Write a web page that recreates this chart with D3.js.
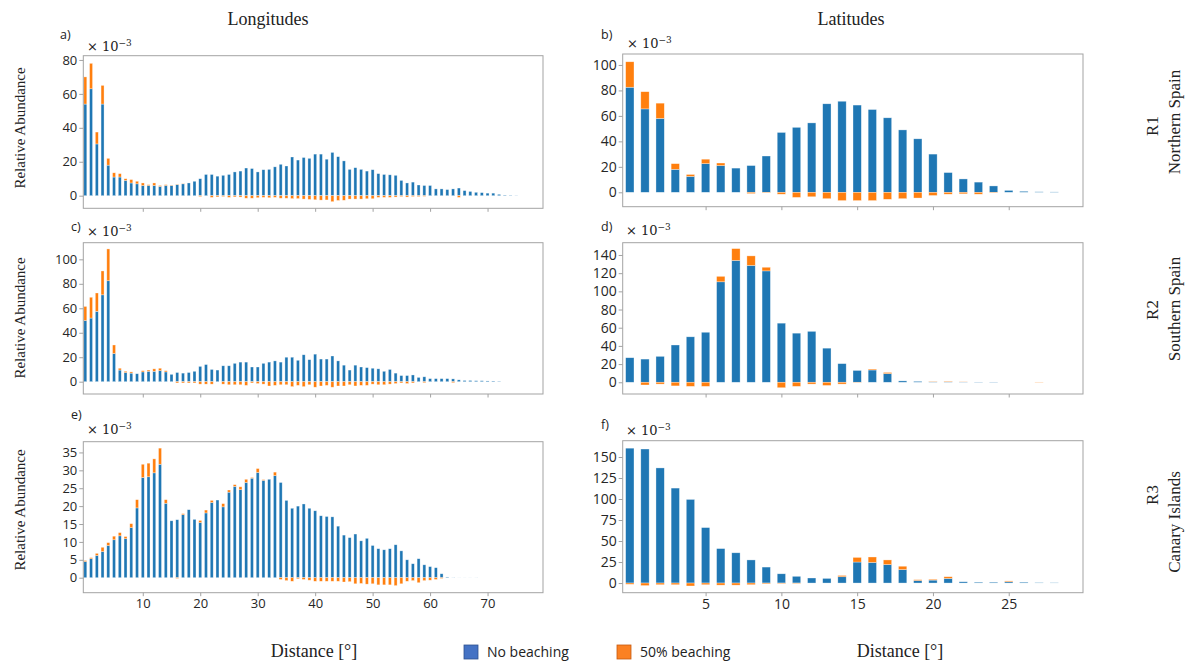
<!DOCTYPE html>
<html>
<head>
<meta charset="utf-8">
<script src="https://cdn.jsdelivr.net/npm/d3@7"></script>
<style>
  body { margin: 0; background: #fff; }
  .tick text { fill: #262626; font-family: "Open Sans", sans-serif; }
  .serif { font-family: "Liberation Serif", "Times New Roman", serif; fill: #222; }
</style>
</head>
<body>
<div id="chart"></div>
<script>
// relative abundance (x 10^-3), blue = no beaching, orange = 50% beaching minus no beaching
var lonR1Blue = [54,63,30.5,54,18,11,11,9,7.5,7, 6,6,6,5.5,6,6,6.5,7,7.5,8.5,
  10,12.5,12.5,11.5,12,12.5,14,14.5,16.3,16, 14,15.3,15.5,17,18.5,17.5,22.8,21,22.5,22,
  24.5,24.5,21.5,25.5,23,20.5,15.5,16.5,15.5,14.5, 15.3,13,12.5,12.3,12,9,7.5,8,6.3,6,
  6,4,4,3.6,4,4.5,3,2.5,2,1.8, 1.5,1.5,0.8,0.3,0.2,0.1];
var lonR1Orange = [16,15,7,11,4,2.5,2,1,2,1.5, 1.5,0.5,1.5,0.5,0.5,0.2,0.2,0.2,0,0,
  -0.5,0,-1,-0.7,-0.5,-1,-0.7,-0.8,-1.5,-1.5, -1.2,-1,-1.2,-1,-1.5,-1.5,-1.7,-1.7,-2,-2.2,
  -2.4,-2.6,-2.5,-3.5,-2.8,-2.7,-2,-2,-2,-1.8, -1.8,-1,-1,-1,-0.8,-0.5,-0.8,-0.5,-0.5,-0.4,
  0,0,0,0,0,-1,0,0,0,0, 0,0,0,0,0,0];

var lonR2Blue = [50,52,57.5,71,82.5,23,9.5,7.5,7,6.5, 8,8.5,8.5,9,8,6,7.5,7,7.5,8.5,
  12.5,14,10,9.5,13,13,15,16,16,12, 12,15,16,17,16,20,20,17.5,22,18,
  22.5,18.5,18.5,21,17,13.5,9.5,13.5,12,11.5, 11,10.5,8.5,10,7,5,5,5.5,3.5,4,
  2.5,2.5,2.5,2.5,2.3,1.5,1,1,0.8,0.8, 0.6,0.5,0.3];
var lonR2Orange = [11.5,17,15,19.5,26,7,1.5,1,1,0, 1,1,2,2,1,0,-1,-1,-1,-1,
  -2,-2,-2,0,-2,-2.5,-2.5,-2.5,-3,-1, -1.5,-2,-3.5,-3,-2.5,-2.5,-4,-3,-4,-2.5,
  -4.5,-3.5,-3,-4.5,-3.5,-3.5,-2.5,-3.5,-3,-3, -2,-2.5,-2.5,-2,-1.5,-1,-1.5,-1,0,-0.8,
  0,0,0,0,-0.8,0,0,0,0,0, 0,0,0];

var lonR3Blue = [4.5,5.3,6.2,7.3,9,10.6,11.7,10.9,14,19.5, 28,28.2,29.3,31.7,20.8,15.9,16.2,17.6,19,16.3,
  15.4,18.1,21,21.7,19.8,23.9,25.5,24.6,26.6,27.8, 29.4,27.2,27.5,28.5,26.6,21.6,19.4,20,20.6,19.4,
  18.7,17.3,17.1,17,14.4,11.9,11.2,12.2,10.3,11, 9,8.1,7.8,8.1,9.2,7.5,5,3.9,5.3,3.6,
  3.1,2.8,1.1,0.2,0.1,0.05,0.05,0.05,0.05];
var lonR3Orange = [0.3,0.3,0.6,1.2,0.8,1,0.9,0.6,1.1,2.3, 3.7,3.8,3.9,4.5,1,0,-0.2,0.3,0,0,
  0.6,0.8,0.6,0,0.9,0.6,0.5,0.8,0.9,0.2, 1.1,0.2,0,1,-0.5,-0.8,-1,-0.3,-0.5,-0.7,
  -1,-1,-1,-1,-1,-1.2,-1.1,-1.7,-1.6,-1.8, -1.7,-2,-2,-2,-2.2,-1.7,-1,-0.8,-1.4,-0.8,
  -0.7,-0.5,-0.2,0,0,0,0,0,0];

var latR1Blue = [82.5,65.5,58,18,12.5,22.5,21,19,21,28.5, 47,51,54.5,69.5,71.5,68.5,65,58.5,49,42,
  30,15.5,10.5,8,5,1.5,0.8,0.4,0.3];
var latR1Orange = [20,13.5,12,4.5,1.5,3.5,2,0,-1,-0.5, -1.5,-4,-3.5,-5,-6.5,-6.5,-6.5,-5.5,-5,-4.5,
  -2.5,-1.5,-1.2,-1.5,-0.5,0,0,0,0];

var latR2Blue = [27,25.5,28.5,41,50,55,110.5,134,128.5,122.5, 65,54,56,37.5,20.5,13,13.5,9.5,1.5,1,
  0.5,0.5,0.3,0.3,0.3,0,0,0];
var latR2Orange = [0,-3,-2,-4,-4.5,-4.5,6,13,10.5,4, -6,-4.5,-2,-3.5,-2,-0.5,1,1.3,0,0,
  0.5,0.7,0.2,0,0,0,0,0.3];

var latR3Blue = [160.5,159.5,137,113,99.5,66,41,36,27.5,19, 11,8,6,5.5,7.5,25,24.5,22,16,3,
  3.5,5.5,1.5,1,1,1.5,1,0.5,0.3];
var latR3Orange = [-1.5,-3,-2,-2,-3.5,-2,-2.5,-2.5,-2,-1, -0.8,-0.5,0,0,1.5,5.5,6.5,5.5,4,1,
  1,2,0,0,0,1,0,0,0];

var lonTicks = [10,20,30,40,50,60,70];
var latTicks = [5,10,15,20,25];
var regionNames = [["R1","Northern Spain"],["R2","Southern Spain"],["R3","Canary Islands"]];

var blueColor = "#1f77b4", orangeColor = "#ff7f0e";

var svg = d3.select("#chart").append("svg")
  .attr("width", 1190)
  .attr("height", 661);

var columns = {
  lon: { x0: 83.3, x1: 543, domain: [-0.35, 79.65], ticks: lonTicks, barW: 0.52, font: 13 },
  lat: { x0: 622.7, x1: 1083, domain: [-0.47, 29.9], ticks: latTicks, barW: 0.55, font: 14 }
};

var panels = [
  { tag: "a)", col: "lon", blue: lonR1Blue, orange: lonR1Orange, top: 55.7, bottom: 208.3,
    ylim: [-7.43, 82.5], yticks: [0,20,40,60,80], tagPos: [60, 39], offPos: [87, 51], xlabels: false },
  { tag: "b)", col: "lat", blue: latR1Blue, orange: latR1Orange, top: 54, bottom: 206.7,
    ylim: [-11.3, 108.6], yticks: [0,20,40,60,80,100], tagPos: [601, 39], offPos: [627, 48], xlabels: false },
  { tag: "c)", col: "lon", blue: lonR2Blue, orange: lonR2Orange, top: 242.7, bottom: 394,
    ylim: [-10.06, 113.6], yticks: [0,20,40,60,80,100], tagPos: [71, 231], offPos: [87, 236], xlabels: false },
  { tag: "d)", col: "lat", blue: latR2Blue, orange: latR2Orange, top: 242.7, bottom: 394,
    ylim: [-12.9, 153.5], yticks: [0,20,40,60,80,100,120,140], tagPos: [601, 231], offPos: [626, 235], xlabels: false },
  { tag: "e)", col: "lon", blue: lonR3Blue, orange: lonR3Orange, top: 441.7, bottom: 592.7,
    ylim: [-4.19, 38.0], yticks: [0,5,10,15,20,25,30,35], tagPos: [71, 419], offPos: [87, 434], xlabels: true },
  { tag: "f)", col: "lat", blue: latR3Blue, orange: latR3Orange, top: 440.7, bottom: 592.7,
    ylim: [-11.5, 169.4], yticks: [0,25,50,75,100,125,150], tagPos: [601, 429], offPos: [626, 435], xlabels: true }
];

panels.forEach(function(p) {
  var c = columns[p.col];
  var x = d3.scaleLinear().domain(c.domain).range([c.x0, c.x1]);
  var y = d3.scaleLinear().domain(p.ylim).range([p.bottom, p.top]);
  var g = svg.append("g");

  var bw = x(c.barW) - x(0);
  var idx = d3.range(p.blue.length);

  // blue bars
  g.selectAll(".blue").data(idx).enter().append("rect")
    .attr("class", "blue")
    .attr("x", function(i) { return x(i) - bw / 2; })
    .attr("width", bw)
    .attr("y", function(i) { return y(p.blue[i]); })
    .attr("height", function(i) { return y(0) - y(p.blue[i]); })
    .attr("fill", blueColor)
    .attr("stroke", "rgba(255,255,255,0.55)")
    .attr("stroke-width", 0.6);

  // orange: stacked on top when positive, hanging below 0 when negative
  g.selectAll(".orange").data(idx.filter(function(i) { return p.orange[i] !== 0; }))
    .enter().append("rect")
    .attr("class", "orange")
    .attr("x", function(i) { return x(i) - bw / 2; })
    .attr("width", bw)
    .attr("y", function(i) {
      return p.orange[i] > 0 ? y(p.blue[i] + p.orange[i]) : y(0);
    })
    .attr("height", function(i) { return Math.abs(y(0) - y(p.orange[i])); })
    .attr("fill", orangeColor)
    .attr("stroke", "rgba(255,255,255,0.55)")
    .attr("stroke-width", 0.6);

  // frame
  g.append("rect")
    .attr("x", c.x0).attr("y", p.top)
    .attr("width", c.x1 - c.x0).attr("height", p.bottom - p.top)
    .attr("fill", "none").attr("stroke", "#a3a3a3").attr("stroke-width", 1);

  var xAxis = d3.axisBottom(x).tickValues(c.ticks).tickSize(3.5).tickPadding(3)
    .tickFormat(p.xlabels ? d3.format("d") : "");
  var xg = g.append("g").attr("transform", "translate(0," + p.bottom + ")").call(xAxis);
  xg.select(".domain").remove();
  xg.selectAll("line").attr("stroke", "#a3a3a3");
  xg.selectAll("text").style("font-size", c.font + "px");

  var yAxis = d3.axisLeft(y).tickValues(p.yticks).tickSize(4).tickPadding(2);
  var yg = g.append("g").attr("transform", "translate(" + c.x0 + ",0)").call(yAxis);
  yg.select(".domain").remove();
  yg.selectAll("line").attr("stroke", "#a3a3a3");
  yg.selectAll("text").style("font-size", c.font + "px");

  // panel letter
  g.append("text")
    .attr("x", p.tagPos[0]).attr("y", p.tagPos[1])
    .style("font-family", "Open Sans, sans-serif").style("font-size", "12.5px")
    .attr("fill", "#222")
    .text(p.tag);

  // offset text  x 10^-3
  var off = g.append("text")
    .attr("x", p.offPos[0]).attr("y", p.offPos[1])
    .style("font-family", "DejaVu Serif, serif").style("font-size", "13px")
    .attr("fill", "#222");
  off.append("tspan").text("\u00d7 10");
  off.append("tspan").attr("dy", -5).style("font-size", "9px").text("\u22123");
});

// column titles
svg.append("text").attr("class", "serif")
  .attr("x", 268).attr("y", 25).attr("text-anchor", "middle")
  .style("font-size", "18px").text("Longitudes");
svg.append("text").attr("class", "serif")
  .attr("x", 851).attr("y", 25).attr("text-anchor", "middle")
  .style("font-size", "18px").text("Latitudes");

// y labels
[128, 318, 510].forEach(function(cy) {
  svg.append("text").attr("class", "serif")
    .attr("transform", "translate(25," + cy + ") rotate(-90)")
    .attr("text-anchor", "middle")
    .style("font-size", "15px")
    .text("Relative Abundance");
});

// region labels on the right
var regionY = [[126, 122], [310, 309], [495, 522]];
regionNames.forEach(function(r, i) {
  svg.append("text").attr("class", "serif")
    .attr("transform", "translate(1158," + regionY[i][0] + ") rotate(-90)")
    .attr("text-anchor", "middle").style("font-size", "17px").text(r[0]);
  svg.append("text").attr("class", "serif")
    .attr("transform", "translate(1180," + regionY[i][1] + ") rotate(-90)")
    .attr("text-anchor", "middle").style("font-size", "17px").text(r[1]);
});

// x labels
svg.append("text").attr("class", "serif")
  .attr("x", 314).attr("y", 657).attr("text-anchor", "middle")
  .style("font-size", "18px").text("Distance [\u00b0]");
svg.append("text").attr("class", "serif")
  .attr("x", 900).attr("y", 657).attr("text-anchor", "middle")
  .style("font-size", "18px").text("Distance [\u00b0]");

// legend
var legendItems = [
  { name: "No beaching", color: "#4472c4", border: "#2f528f", x: 464 },
  { name: "50% beaching", color: "#fb8123", border: "#c55a11", x: 617 }
];
legendItems.forEach(function(l) {
  svg.append("rect")
    .attr("x", l.x).attr("y", 645).attr("width", 14).attr("height", 14)
    .attr("fill", l.color).attr("stroke", l.border).attr("stroke-width", 0.8);
  svg.append("text")
    .attr("x", l.x + 23).attr("y", 657)
    .style("font-family", "Open Sans, sans-serif").style("font-size", "14px")
    .attr("fill", "#222")
    .text(l.name);
});
</script>
</body>
</html>
